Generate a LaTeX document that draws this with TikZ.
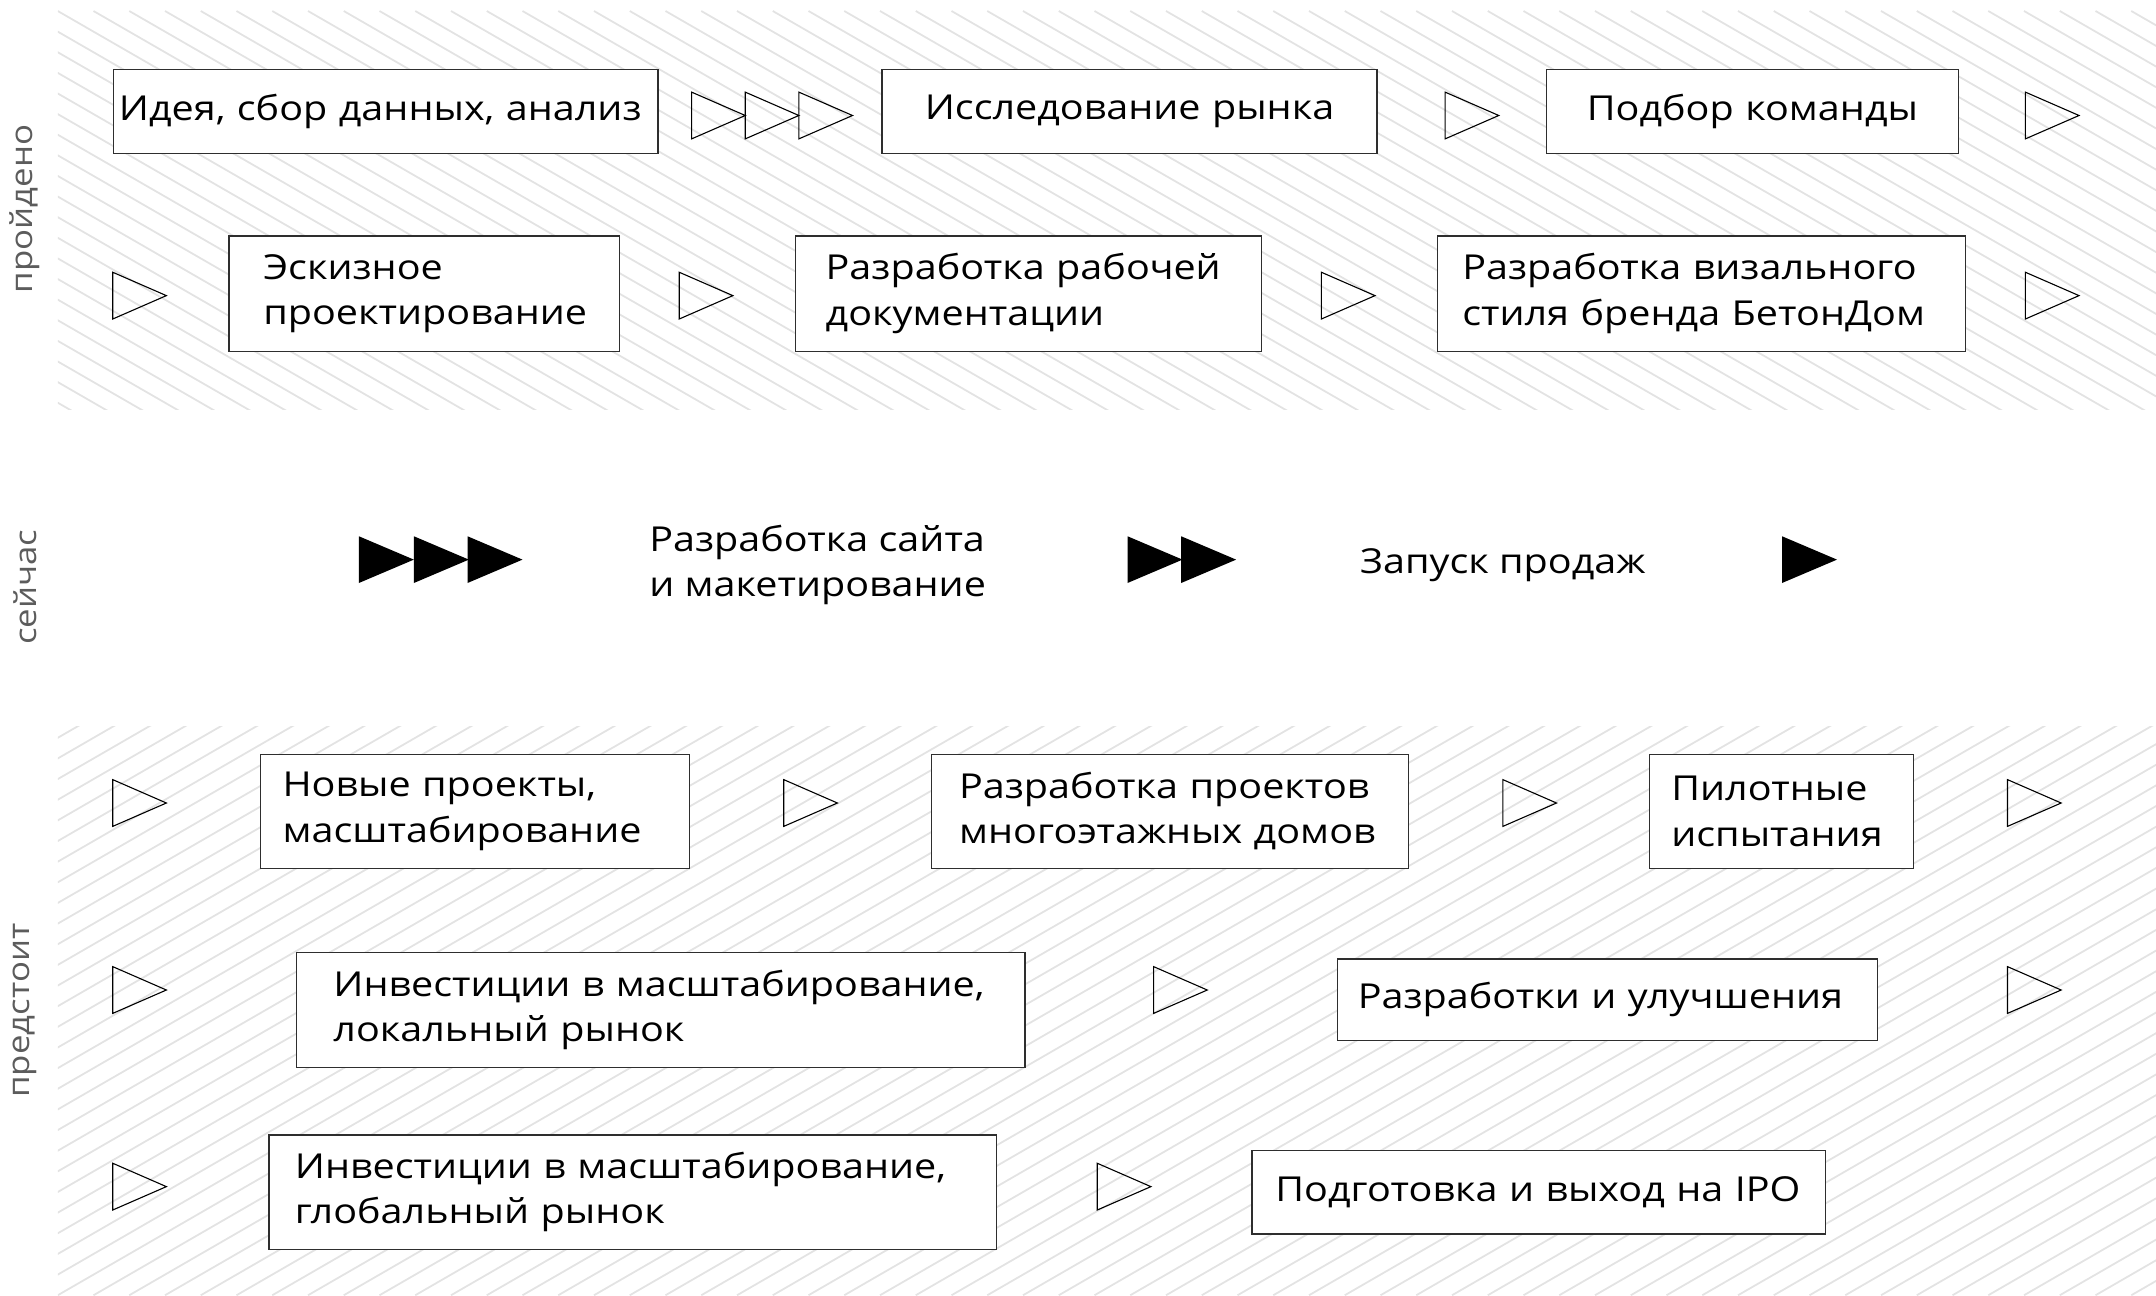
\documentclass[tikz,border=0pt]{standalone}
\usepackage{fontspec}
\setmainfont{Open Sans}[FakeStretch=1.15]
\usepackage{xcolor}
\usepackage{tikz}
\usetikzlibrary{positioning}

\definecolor{hatchgray}{HTML}{E3E3E3}
\definecolor{labelgray}{HTML}{5C5C5C}
\definecolor{framegray}{HTML}{2E2E2E}

\begin{document}
\begin{tikzpicture}[x=1pt,y=-1pt,
  stepbox/.style={draw=framegray, line width=1pt, fill=white, anchor=north west,
    align=left, inner ysep=0pt, font=\fontsize{25}{33}\selectfont},
  steptext/.style={anchor=west, align=left, inner sep=0pt, font=\fontsize{25}{33}\selectfont},
  hatch/.style={draw=hatchgray, line width=1.3pt},
  tri/.style={draw=black, line width=0.8pt, line join=miter},
  trifull/.style={fill=black},
  phase/.style={rotate=90, text=labelgray, font=\fontsize{22}{30}\selectfont}]
\useasboundingbox (0,0) rectangle (1568,942);

% hatched bands
\begin{scope}
  \clip (42,8) rectangle (1568,298);
  \foreach \i in {-20,...,59} \draw[hatch] (42+\i*26,8) -- ++(600,346);
\end{scope}
\begin{scope}
  \clip (42,528) rectangle (1568,942);
  \foreach \i in {-28,...,59} \draw[hatch] (42+\i*26,942) -- ++(800,-462);
\end{scope}

% phase labels
\node[phase] (done) at (18,152) {пройдено};
\node[phase] (now) at (18,427) {сейчас};
\node[phase] (next) at (18,735) {предстоит};

% passed
\node[stepbox, text width=388pt, inner xsep=4pt, minimum height=61pt] (idea) at (82,50) {Идея, сбор данных, анализ};
\node[stepbox, text width=340pt, inner xsep=10pt, minimum height=61pt, align=center] (market) at (641,50) {Исследование рынка};
\node[stepbox, text width=280pt, inner xsep=10pt, minimum height=61pt, align=center] (team) at (1124,50) {Подбор команды};
\node[stepbox, text width=234pt, inner xsep=25pt, minimum height=84pt] (sketch) at (166,171) {Эскизное\\проектирование};
\node[stepbox, text width=295pt, inner xsep=22pt, minimum height=84pt] (docs) at (578,171) {Разработка рабочей\\документации};
\node[stepbox, text width=348pt, inner xsep=18pt, minimum height=84pt] (brand) at (1045,171) {Разработка визального\\стиля бренда БетонДом};

% current
\node[steptext] (site) at (472,411) {Разработка сайта\\и макетирование};
\node[steptext] (sales) at (989,411) {Запуск продаж};

% upcoming
\node[stepbox, text width=280pt, inner xsep=16pt, minimum height=83pt] (scale) at (189,548) {Новые проекты,\\масштабирование};
\node[stepbox, text width=307pt, inner xsep=20pt, minimum height=83pt] (tower) at (677,548) {Разработка проектов\\многоэтажных домов};
\node[stepbox, text width=160pt, inner xsep=16pt, minimum height=83pt] (pilot) at (1199,548) {Пилотные\\испытания};
\node[stepbox, text width=476pt, inner xsep=27pt, minimum height=84pt] (local) at (215,692) {Инвестиции в масштабирование,\\локальный рынок};
\node[stepbox, text width=363pt, inner xsep=15pt, minimum height=59pt] (improve) at (972,697) {Разработки и улучшения};
\node[stepbox, text width=491pt, inner xsep=19pt, minimum height=83pt] (global) at (195,825) {Инвестиции в масштабирование,\\глобальный рынок};
\node[stepbox, text width=383pt, inner xsep=17pt, minimum height=61pt] (ipo) at (910,836) {Подготовка и выход на IPO};

% outline triangles
\foreach \x/\y in {503/67,542/67,581/67,1051/67,1473/67,
                   82/198,494/198,961/198,1473/198,
                   82/567,570/567,1093/567,1460/567,
                   82/703,839/703,1460/703,
                   82/846,798/846}
  \draw[tri] (\x,\y) -- ++(39,17) -- ++(-39,17) -- cycle;

% filled triangles
\foreach \x in {261,301,340,820,859,1296}
  \fill[trifull] (\x,390) -- ++(40,17) -- ++(-40,17) -- cycle;
\end{tikzpicture}
\end{document}
